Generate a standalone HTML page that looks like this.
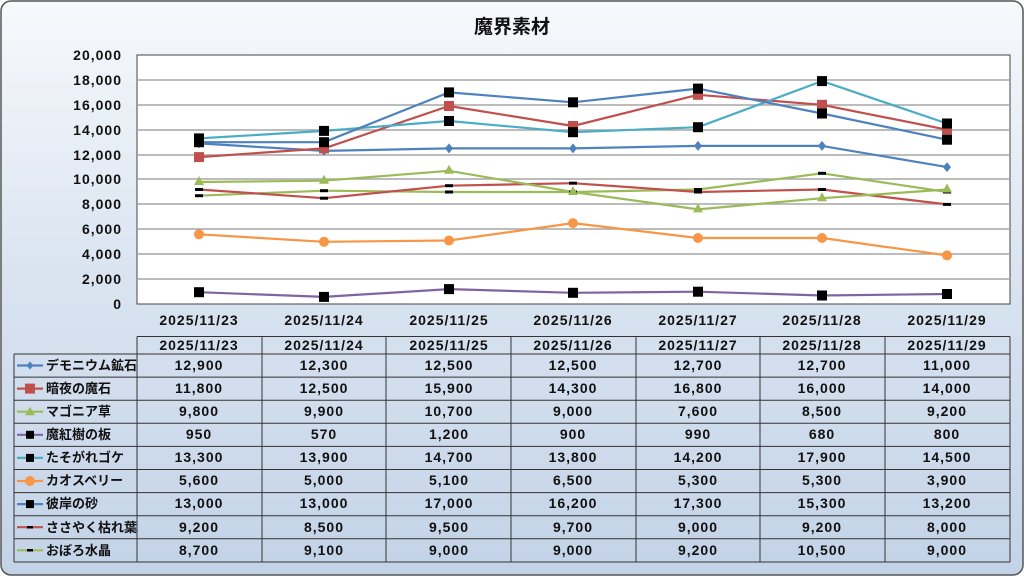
<!DOCTYPE html>
<html><head><meta charset="utf-8"><style>
html,body{margin:0;padding:0;width:1024px;height:576px;overflow:hidden;background:#fff}
text{font-family:"Liberation Sans","Noto Sans CJK JP",sans-serif;fill:#111}
.n{font-size:14px;letter-spacing:1px;font-weight:bold}
</style></head><body>
<svg width="1024" height="576" viewBox="0 0 1024 576" xmlns="http://www.w3.org/2000/svg">
<defs>
<linearGradient id="bg" x1="0" y1="0" x2="0" y2="1">
<stop offset="0" stop-color="#f7f9fc"/><stop offset="0.45" stop-color="#dbe5f1"/><stop offset="1" stop-color="#c3d3e7"/>
</linearGradient>
<g id="sq"><rect x="-5" y="-5" width="10" height="10" fill="#000"/></g>
<g id="dash"><rect x="-4" y="-1.5" width="8" height="3" fill="#000"/></g>
</defs>
<rect x="1" y="1" width="1022" height="574" rx="10" fill="url(#bg)" stroke="#555" stroke-width="1.5"/>
<text x="512" y="33" font-size="19" font-weight="bold" text-anchor="middle">魔界素材</text>
<rect x="137" y="55" width="873" height="249" fill="#fff" stroke="#444" stroke-width="1"/>
<g stroke="#a6a6a6" stroke-width="1.5">
<line x1="137" x2="1010" y1="80" y2="80"/><line x1="137" x2="1010" y1="105" y2="105"/><line x1="137" x2="1010" y1="130" y2="130"/><line x1="137" x2="1010" y1="155" y2="155"/><line x1="137" x2="1010" y1="179" y2="179"/><line x1="137" x2="1010" y1="204" y2="204"/><line x1="137" x2="1010" y1="229" y2="229"/><line x1="137" x2="1010" y1="254" y2="254"/><line x1="137" x2="1010" y1="279" y2="279"/>
</g>
<line x1="137" x2="1010" y1="304" y2="304" stroke="#444"/>
<g class="n" text-anchor="end">
<text class="n" x="122" y="60">20,000</text><text class="n" x="122" y="85">18,000</text><text class="n" x="122" y="110">16,000</text><text class="n" x="122" y="135">14,000</text><text class="n" x="122" y="160">12,000</text><text class="n" x="122" y="184">10,000</text><text class="n" x="122" y="209">8,000</text><text class="n" x="122" y="234">6,000</text><text class="n" x="122" y="259">4,000</text><text class="n" x="122" y="284">2,000</text><text class="n" x="122" y="309">0</text>
</g>
<g text-anchor="middle">
<text class="n" x="199" y="325">2025/11/23</text><text class="n" x="324" y="325">2025/11/24</text><text class="n" x="449" y="325">2025/11/25</text><text class="n" x="573" y="325">2025/11/26</text><text class="n" x="698" y="325">2025/11/27</text><text class="n" x="822" y="325">2025/11/28</text><text class="n" x="947" y="325">2025/11/29</text>
</g>
<g fill="none" stroke-width="2.2" stroke-linejoin="round">
<polyline stroke="#8064a2" points="199,292.2 324,296.9 449,289.1 573,292.8 698,291.7 822,295.5 947,294"/>
<polyline stroke="#f79646" points="199,234.3 324,241.8 449,240.5 573,223.1 698,238 822,238 947,255.4"/>
<polyline stroke="#9bbb59" points="199,195.7 324,190.7 449,192 573,192 698,189.5 822,173.3 947,192"/>
<polyline stroke="#c0504d" points="199,189.5 324,198.2 449,185.7 573,183.2 698,192 822,189.5 947,204.4"/>
<polyline stroke="#9bbb59" points="199,182 324,180.7 449,170.8 573,192 698,209.4 822,198.2 947,189.5"/>
<polyline stroke="#4f81bd" points="199,143.4 324,150.9 449,148.4 573,148.4 698,145.9 822,145.9 947,167.1"/>
<polyline stroke="#c0504d" points="199,157.1 324,148.4 449,106 573,126 698,94.8 822,104.8 947,129.7"/>
<polyline stroke="#4bacc6" points="199,138.4 324,130.9 449,121 573,132.2 698,127.2 822,81.1 947,123.5"/>
<polyline stroke="#4f81bd" points="199,142.2 324,142.2 449,92.4 573,102.3 698,88.6 822,113.5 947,139.7"/>
</g>
<g>
<use href="#sq" x="199" y="292.2"/><use href="#sq" x="324" y="296.9"/><use href="#sq" x="449" y="289.1"/><use href="#sq" x="573" y="292.8"/><use href="#sq" x="698" y="291.7"/><use href="#sq" x="822" y="295.5"/><use href="#sq" x="947" y="294"/>
<g fill="#f79646"><circle cx="199" cy="234.3" r="5"/><circle cx="324" cy="241.8" r="5"/><circle cx="449" cy="240.5" r="5"/><circle cx="573" cy="223.1" r="5"/><circle cx="698" cy="238" r="5"/><circle cx="822" cy="238" r="5"/><circle cx="947" cy="255.4" r="5"/></g>
<use href="#dash" x="199" y="195.7"/><use href="#dash" x="324" y="190.7"/><use href="#dash" x="449" y="192"/><use href="#dash" x="573" y="192"/><use href="#dash" x="698" y="189.5"/><use href="#dash" x="822" y="173.3"/><use href="#dash" x="947" y="192"/>
<use href="#dash" x="199" y="189.5"/><use href="#dash" x="324" y="198.2"/><use href="#dash" x="449" y="185.7"/><use href="#dash" x="573" y="183.2"/><use href="#dash" x="698" y="192"/><use href="#dash" x="822" y="189.5"/><use href="#dash" x="947" y="204.4"/>
<g fill="#9bbb59"><path d="M199,176l5,9h-10z"/><path d="M324,174.7l5,9h-10z"/><path d="M449,164.8l5,9h-10z"/><path d="M573,186l5,9h-10z"/><path d="M698,203.4l5,9h-10z"/><path d="M822,192.2l5,9h-10z"/><path d="M947,183.5l5,9h-10z"/></g>
<g fill="#4f81bd"><path d="M199,138.4l4,5-4,5-4-5z"/><path d="M324,145.9l4,5-4,5-4-5z"/><path d="M449,143.4l4,5-4,5-4-5z"/><path d="M573,143.4l4,5-4,5-4-5z"/><path d="M698,140.9l4,5-4,5-4-5z"/><path d="M822,140.9l4,5-4,5-4-5z"/><path d="M947,162.1l4,5-4,5-4-5z"/></g>
<g fill="#c0504d"><rect x="194" y="152.1" width="10" height="10"/><rect x="319" y="143.4" width="10" height="10"/><rect x="444" y="101" width="10" height="10"/><rect x="568" y="121" width="10" height="10"/><rect x="693" y="89.8" width="10" height="10"/><rect x="817" y="99.8" width="10" height="10"/><rect x="942" y="124.7" width="10" height="10"/></g>
<use href="#sq" x="199" y="138.4"/><use href="#sq" x="324" y="130.9"/><use href="#sq" x="449" y="121"/><use href="#sq" x="573" y="132.2"/><use href="#sq" x="698" y="127.2"/><use href="#sq" x="822" y="81.1"/><use href="#sq" x="947" y="123.5"/>
<use href="#sq" x="199" y="142.2"/><use href="#sq" x="324" y="142.2"/><use href="#sq" x="449" y="92.4"/><use href="#sq" x="573" y="102.3"/><use href="#sq" x="698" y="88.6"/><use href="#sq" x="822" y="113.5"/><use href="#sq" x="947" y="139.7"/>
</g>
<g stroke="#333" stroke-width="1" fill="none">
<line x1="137" x2="1010" y1="336.5" y2="336.5"/>
<line x1="14" x2="1010" y1="354" y2="354"/><line x1="14" x2="1010" y1="377.1" y2="377.1"/><line x1="14" x2="1010" y1="400.2" y2="400.2"/><line x1="14" x2="1010" y1="423.3" y2="423.3"/><line x1="14" x2="1010" y1="446.4" y2="446.4"/><line x1="14" x2="1010" y1="469.5" y2="469.5"/><line x1="14" x2="1010" y1="492.6" y2="492.6"/><line x1="14" x2="1010" y1="515.7" y2="515.7"/><line x1="14" x2="1010" y1="538.8" y2="538.8"/><line x1="14" x2="1010" y1="562" y2="562"/>
<line x1="14" x2="14" y1="354" y2="562"/><line x1="137" x2="137" y1="336.5" y2="562"/><line x1="262" x2="262" y1="336.5" y2="562"/><line x1="386" x2="386" y1="336.5" y2="562"/><line x1="511" x2="511" y1="336.5" y2="562"/><line x1="636" x2="636" y1="336.5" y2="562"/><line x1="760" x2="760" y1="336.5" y2="562"/><line x1="885" x2="885" y1="336.5" y2="562"/><line x1="1010" x2="1010" y1="336.5" y2="562"/>
</g>
<g text-anchor="middle">
<text class="n" x="199" y="350">2025/11/23</text><text class="n" x="324" y="350">2025/11/24</text><text class="n" x="449" y="350">2025/11/25</text><text class="n" x="573" y="350">2025/11/26</text><text class="n" x="698" y="350">2025/11/27</text><text class="n" x="822" y="350">2025/11/28</text><text class="n" x="947" y="350">2025/11/29</text>
</g>
<g stroke-width="2.2">
<line x1="17" x2="43" y1="365.5" y2="365.5" stroke="#4f81bd"/><line x1="17" x2="43" y1="388.6" y2="388.6" stroke="#c0504d"/><line x1="17" x2="43" y1="411.7" y2="411.7" stroke="#9bbb59"/><line x1="17" x2="43" y1="434.8" y2="434.8" stroke="#8064a2"/><line x1="17" x2="43" y1="457.9" y2="457.9" stroke="#4bacc6"/><line x1="17" x2="43" y1="481" y2="481" stroke="#f79646"/><line x1="17" x2="43" y1="504.1" y2="504.1" stroke="#4f81bd"/><line x1="17" x2="43" y1="527.2" y2="527.2" stroke="#c0504d"/><line x1="17" x2="43" y1="550.3" y2="550.3" stroke="#9bbb59"/>
</g>
<path d="M30,361.5l3.5,4-3.5,4-3.5-4z" fill="#4f81bd"/>
<rect x="25" y="383.6" width="10" height="10" fill="#c0504d"/>
<path d="M30,406.7l5,8.5h-10z" fill="#9bbb59"/>
<rect x="26" y="430.8" width="8" height="8" fill="#000"/><rect x="26" y="453.9" width="8" height="8" fill="#000"/>
<circle cx="30" cy="481" r="5" fill="#f79646"/>
<rect x="26" y="500.1" width="8" height="8" fill="#000"/><rect x="27" y="526" width="6" height="2.5" fill="#000"/><rect x="27" y="549" width="6" height="2.5" fill="#000"/>
<g font-size="13" font-weight="bold">
<text x="46" y="370">デモニウム鉱石</text><text x="46" y="393">暗夜の魔石</text><text x="46" y="416">マゴニア草</text><text x="46" y="439">魔紅樹の板</text><text x="46" y="462">たそがれゴケ</text><text x="46" y="485">カオスベリー</text><text x="46" y="508">彼岸の砂</text><text x="46" y="532">ささやく枯れ葉</text><text x="46" y="555">おぼろ水晶</text>
</g>
<g text-anchor="middle">
<text class="n" y="370"><tspan x="199">12,900</tspan><tspan x="324">12,300</tspan><tspan x="449">12,500</tspan><tspan x="573">12,500</tspan><tspan x="698">12,700</tspan><tspan x="822">12,700</tspan><tspan x="947">11,000</tspan></text>
<text class="n" y="393"><tspan x="199">11,800</tspan><tspan x="324">12,500</tspan><tspan x="449">15,900</tspan><tspan x="573">14,300</tspan><tspan x="698">16,800</tspan><tspan x="822">16,000</tspan><tspan x="947">14,000</tspan></text>
<text class="n" y="416"><tspan x="199">9,800</tspan><tspan x="324">9,900</tspan><tspan x="449">10,700</tspan><tspan x="573">9,000</tspan><tspan x="698">7,600</tspan><tspan x="822">8,500</tspan><tspan x="947">9,200</tspan></text>
<text class="n" y="439"><tspan x="199">950</tspan><tspan x="324">570</tspan><tspan x="449">1,200</tspan><tspan x="573">900</tspan><tspan x="698">990</tspan><tspan x="822">680</tspan><tspan x="947">800</tspan></text>
<text class="n" y="462"><tspan x="199">13,300</tspan><tspan x="324">13,900</tspan><tspan x="449">14,700</tspan><tspan x="573">13,800</tspan><tspan x="698">14,200</tspan><tspan x="822">17,900</tspan><tspan x="947">14,500</tspan></text>
<text class="n" y="485"><tspan x="199">5,600</tspan><tspan x="324">5,000</tspan><tspan x="449">5,100</tspan><tspan x="573">6,500</tspan><tspan x="698">5,300</tspan><tspan x="822">5,300</tspan><tspan x="947">3,900</tspan></text>
<text class="n" y="508"><tspan x="199">13,000</tspan><tspan x="324">13,000</tspan><tspan x="449">17,000</tspan><tspan x="573">16,200</tspan><tspan x="698">17,300</tspan><tspan x="822">15,300</tspan><tspan x="947">13,200</tspan></text>
<text class="n" y="532"><tspan x="199">9,200</tspan><tspan x="324">8,500</tspan><tspan x="449">9,500</tspan><tspan x="573">9,700</tspan><tspan x="698">9,000</tspan><tspan x="822">9,200</tspan><tspan x="947">8,000</tspan></text>
<text class="n" y="555"><tspan x="199">8,700</tspan><tspan x="324">9,100</tspan><tspan x="449">9,000</tspan><tspan x="573">9,000</tspan><tspan x="698">9,200</tspan><tspan x="822">10,500</tspan><tspan x="947">9,000</tspan></text>
</g>
</svg>
</body></html>
